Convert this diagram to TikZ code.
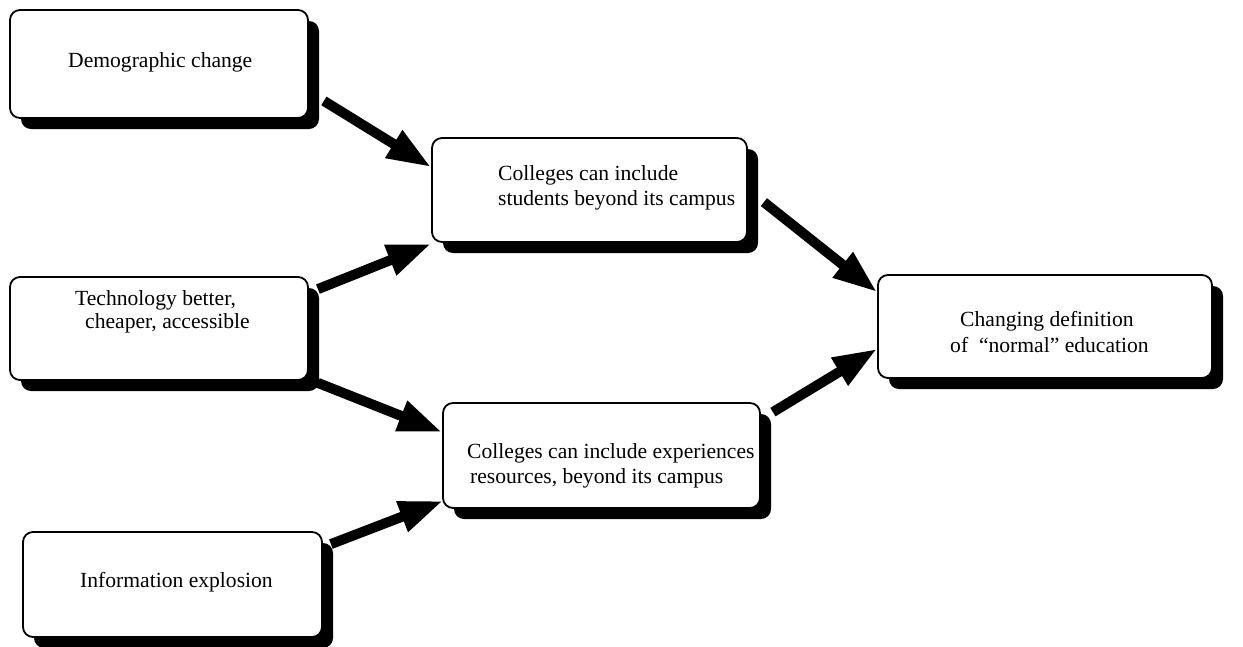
\documentclass[tikz,border=0pt]{standalone}
\usepackage{fontspec}
\setmainfont{Liberation Serif}
\usetikzlibrary{arrows.meta,calc,shadows}
\begin{document}
\begin{tikzpicture}[x=1pt,y=-1pt,
  box/.style={draw=black, line width=1.8pt, rounded corners=10pt, fill=white, inner sep=0pt,
    general shadow={fill=black, shadow xshift=11pt, shadow yshift=-11pt}},
  lbl/.style={anchor=base west, inner sep=0pt, font=\fontsize{21.6pt}{25pt}\selectfont},
  conn/.style={line width=10pt, -{Triangle[length=44pt,width=30pt]}}
]
\useasboundingbox (0,0) rectangle (1243,646);
% boxes
\node[box, minimum width=298pt, minimum height=108pt] (b1) at (159,64) {};
\node[box, minimum width=315pt, minimum height=104pt] (b2) at (589.5,190) {};
\node[box, minimum width=298pt, minimum height=103pt] (b3) at (159,328.5) {};
\node[box, minimum width=334pt, minimum height=103pt] (b4) at (1045,326.5) {};
\node[box, minimum width=317pt, minimum height=105pt] (b5) at (601.5,455.5) {};
\node[box, minimum width=299pt, minimum height=105pt] (b6) at (172.5,584.5) {};
% texts
\node[lbl] (t1) at (68,67) {Demographic change};
\node[lbl] (t2a) at (498,180) {Colleges can include};
\node[lbl] (t2b) at (498,205) {students beyond its campus};
\node[lbl] (t3a) at (75,305) {Technology better,};
\node[lbl] (t3b) at (85,328) {cheaper, accessible};
\node[lbl] (t4a) at (960,326) {Changing definition};
\node[lbl] (t4b) at (950,352) {of \ “normal” education};
\node[lbl] (t5a) at (467,458) {Colleges can include experiences};
\node[lbl] (t5b) at (470,483) {resources, beyond its campus};
\node[lbl] (t6) at (80,587) {Information explosion};
% connectors
\draw[conn] ($(b1.south east)+(15,-18)$) -- ($(b2.north west)+(0,30)$);
\draw[conn] ($(b3.north east)+(9,13)$) -- ($(b2.south west)+(0,1)$);
\draw[conn] ($(b3.south east)+(9,2)$) -- ($(b5.north west)+(0,30)$);
\draw[conn] ($(b6.north east)+(8,13)$) -- ($(b5.south west)+(1,-8)$);
\draw[conn] ($(b2.north east)+(16,65)$) -- ($(b4.north west)+(0,18)$);
\draw[conn] ($(b5.north east)+(12,10)$) -- ($(b4.south west)+(0,-30)$);
\end{tikzpicture}
\end{document}
